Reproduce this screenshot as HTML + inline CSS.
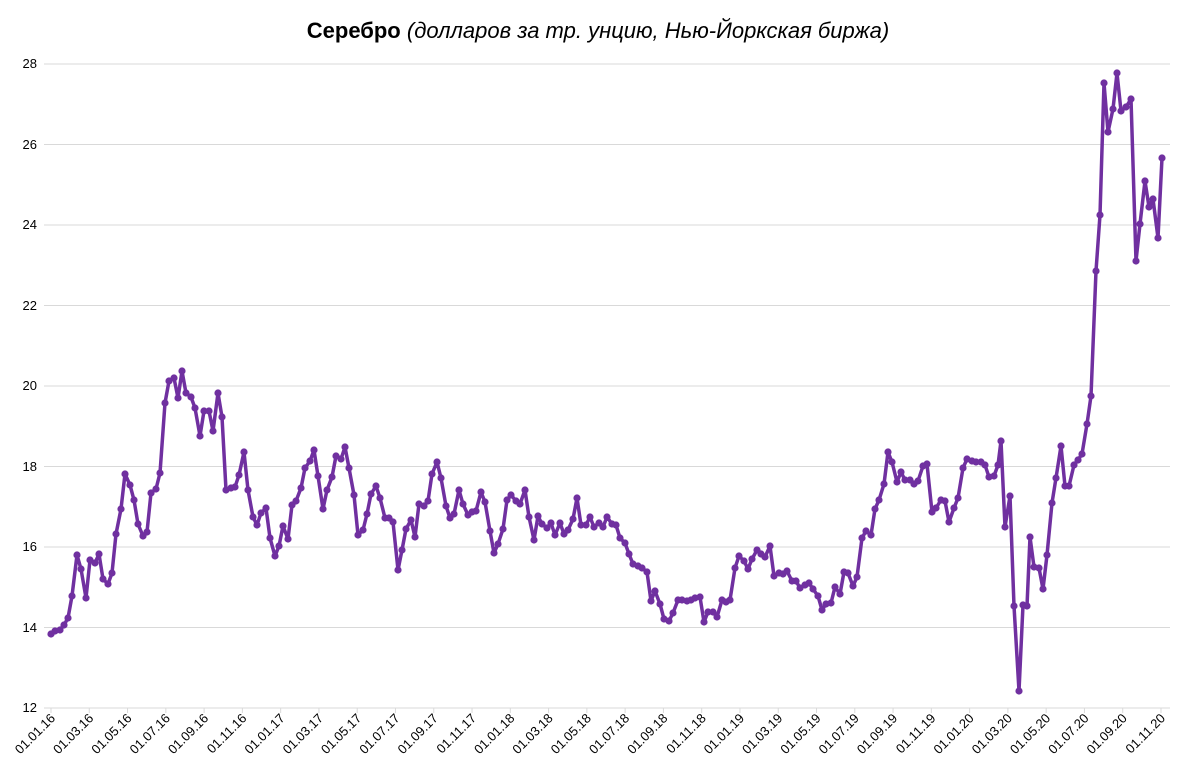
<!DOCTYPE html>
<html><head><meta charset="utf-8"><style>body{margin:0;background:#fff}svg{display:block}</style></head><body>
<svg width="1197" height="775" xmlns="http://www.w3.org/2000/svg" font-family="Liberation Sans, sans-serif">
<text x="598" y="38" text-anchor="middle" font-size="22" fill="#000"><tspan font-weight="bold">Серебро</tspan><tspan font-style="italic"> (долларов за тр. унцию, Нью-Йоркская биржа)</tspan></text>
<g stroke="#d9d9d9" stroke-width="1">
<line x1="44" x2="1170" y1="64" y2="64"/><line x1="44" x2="1170" y1="144.5" y2="144.5"/><line x1="44" x2="1170" y1="225" y2="225"/><line x1="44" x2="1170" y1="305.5" y2="305.5"/><line x1="44" x2="1170" y1="386" y2="386"/><line x1="44" x2="1170" y1="466.5" y2="466.5"/><line x1="44" x2="1170" y1="547" y2="547"/><line x1="44" x2="1170" y1="627.5" y2="627.5"/><line x1="44" x2="1170" y1="708" y2="708"/>
</g>
<g id="tk" stroke="#d9d9d9" stroke-width="1"></g>
<g font-size="13" fill="#000" text-anchor="end">
<text x="37" y="68">28</text><text x="37" y="149">26</text><text x="37" y="229">24</text><text x="37" y="310">22</text><text x="37" y="390">20</text><text x="37" y="471">18</text><text x="37" y="551">16</text><text x="37" y="632">14</text><text x="37" y="712">12</text>
</g>
<g id="xl" font-size="13" fill="#000" text-anchor="end"></g>
<polyline fill="none" stroke="#7030a0" stroke-width="3.5" stroke-linejoin="round" id="ln" points="51,634 55,631 60,630 64,625 68,618 72,596 77,555 81,569 86,598 90,560 95,563 99,554 103,579 108,584 112,573 116,534 121,509 125,474 130,485 134,500 138,524 143,536 147,532 151,493 156,489 160,473 165,403 169,381 174,378 178,398 182,371 186,393 191,397 195,408 200,436 204,411 209,411 213,431 218,393 222,417 226,490 231,488 235,487 239,475 244,452 248,490 253,517 257,525 261,513 266,508 270,538 275,556 279,546 283,526 288,539 292,505 296,501 301,488 305,468 310,461 314,450 318,476 323,509 327,490 332,477 336,456 341,459 345,447 349,468 354,495 358,535 363,530 367,514 371,494 376,486 380,498 385,518 389,518 393,522 398,570 402,550 406,529 411,520 415,537 419,504 424,506 428,501 432,474 437,462 441,478 446,506 450,518 454,514 459,490 463,504 468,515 472,512 476,511 481,492 485,502 490,531 494,553 498,544 503,529 507,500 511,495 516,501 520,504 525,490 529,517 534,540 538,516 542,524 547,528 551,523 555,535 560,523 564,534 568,530 573,519 577,498 581,525 586,525 590,517 594,527 599,523 603,527 607,517 612,524 616,525 620,538 625,543 629,554 633,564 638,566 642,568 647,572 651,601 655,591 660,604 664,619 669,621 673,613 678,600 682,600 687,601 691,600 695,598 700,597 704,622 708,612 713,612 717,617 722,600 726,602 730,600 735,568 739,556 744,561 748,569 752,559 757,550 761,554 765,557 770,546 774,576 779,573 783,574 787,571 792,581 796,581 800,588 805,585 809,583 813,589 818,596 822,610 826,604 831,603 835,587 840,594 844,572 848,573 853,586 857,577 862,538 866,531 871,535 875,509 879,500 884,484 888,452 892,462 897,482 901,472 905,480 910,480 914,484 918,481 923,466 927,464 932,512 936,508 941,500 945,501 949,522 954,508 958,498 963,468 967,459 972,461 976,462 981,462 985,465 989,477 994,476 998,465 1001,441 1005,527 1010,496 1014,606 1019,691 1023,605 1027,606 1030,537 1034,567 1039,568 1043,589 1047,555 1052,503 1056,478 1061,446 1065,486 1069,486 1074,465 1078,460 1082,454 1087,424 1091,396 1096,271 1100,215 1104,83 1108,132 1113,109 1117,73 1121,111 1126,107 1131,99 1136,261 1140,224 1145,181 1149,207 1153,199 1158,238 1162,158"/>
<g id="dots" fill="#7030a0"></g>
</svg>
<script>
var pts=document.getElementById('ln').getAttribute('points').trim().split(/\s+/);
var g=document.getElementById('dots'),ns='http://www.w3.org/2000/svg';
pts.forEach(function(p){var a=p.split(',');var c=document.createElementNS(ns,'circle');c.setAttribute('cx',a[0]);c.setAttribute('cy',a[1]);c.setAttribute('r','3.6');g.appendChild(c);});
var labs=[];var m=['01','03','05','07','09','11'];
for(var y=16;y<=20;y++)for(var i=0;i<6;i++)labs.push('01.'+m[i]+'.'+y);
var xl=document.getElementById('xl'),tk=document.getElementById('tk');
labs.forEach(function(t,i){var x=51+i*(1161-51)/29;var e=document.createElementNS(ns,'text');e.setAttribute('transform','translate('+(x+5)+',719) rotate(-45)');e.textContent=t;xl.appendChild(e);
var l=document.createElementNS(ns,'line');l.setAttribute('x1',x);l.setAttribute('x2',x);l.setAttribute('y1',708);l.setAttribute('y2',713);tk.appendChild(l);});
</script>
</body></html>
